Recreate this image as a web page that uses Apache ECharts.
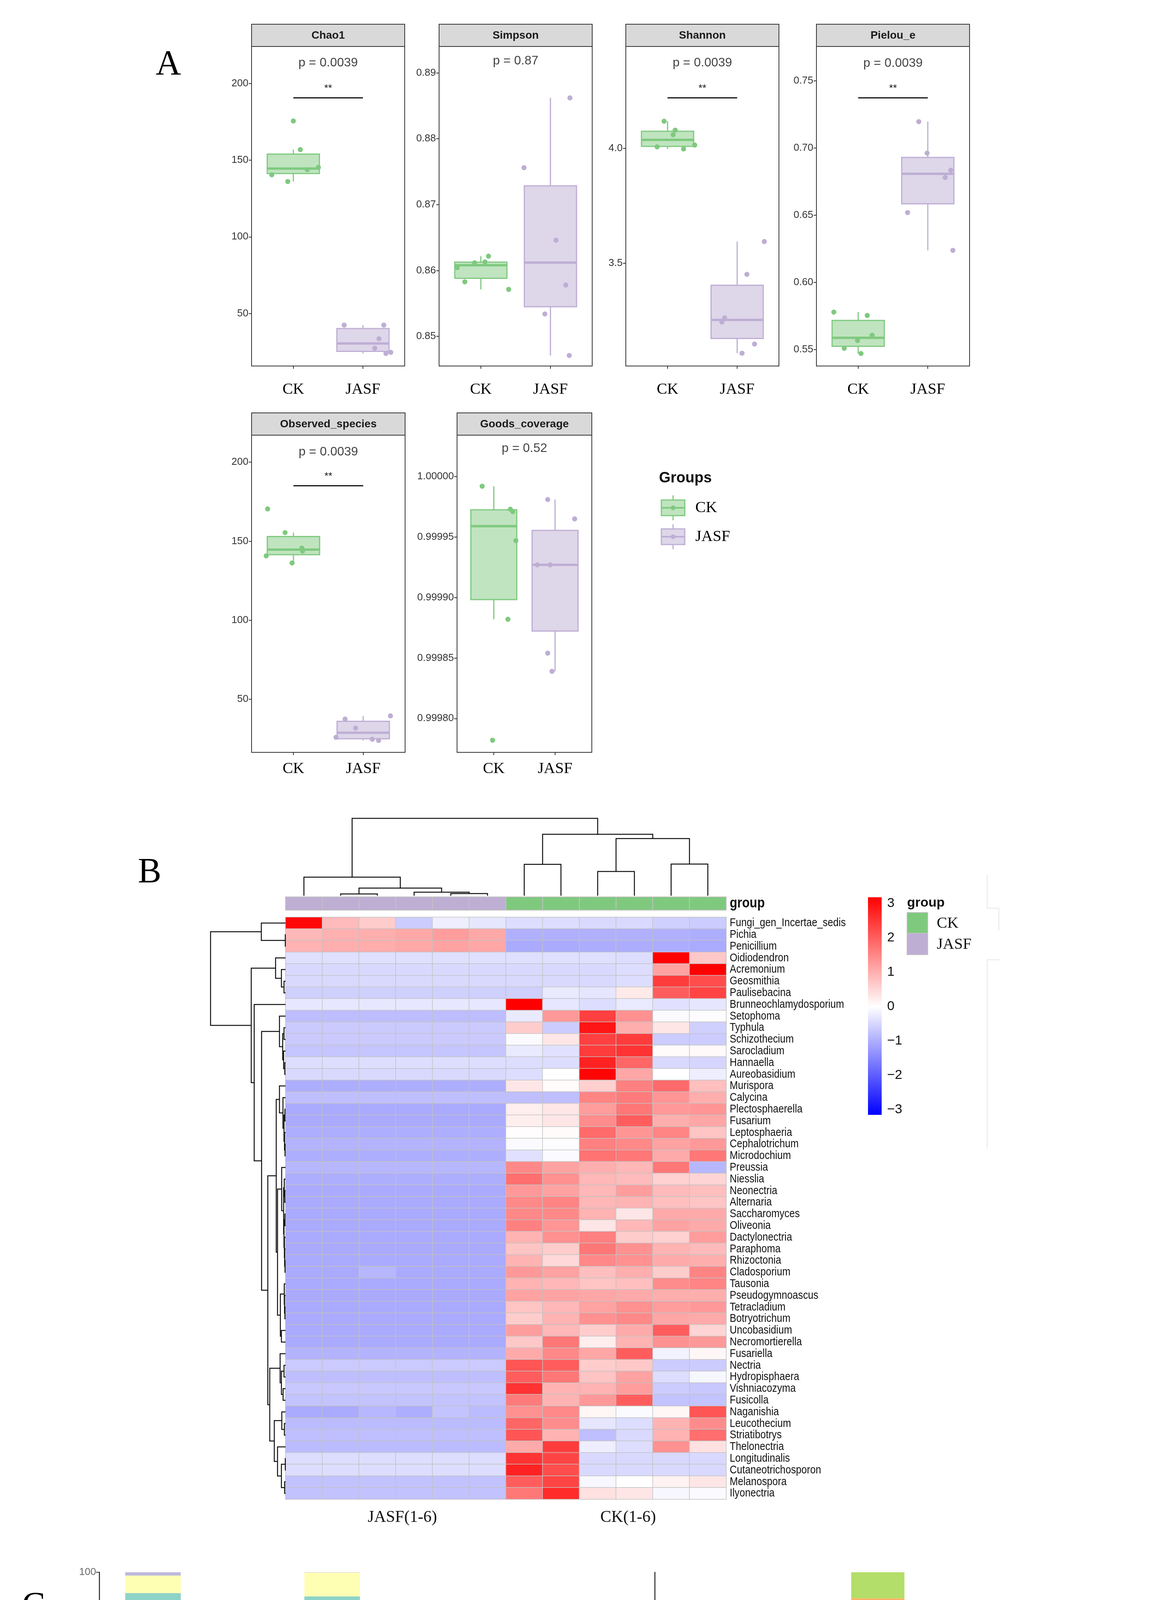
<!DOCTYPE html>
<html><head><meta charset="utf-8">
<script src="https://cdn.jsdelivr.net/npm/echarts@6/dist/echarts.min.js"></script>
<style>html,body{margin:0;padding:0;background:#fff;overflow:hidden}#c{width:2990px;height:5495px}</style>
</head><body><div id="c"></div><script>
// ---------------- DATA: panel A (alpha diversity) ----------------
const groups = ['CK', 'JASF'];
const metricNames = ['Chao1', 'Simpson', 'Shannon', 'Pielou_e', 'Observed_species', 'Goods_coverage'];
const pLabels = ['p = 0.0039', 'p = 0.87', 'p = 0.0039', 'p = 0.0039', 'p = 0.0039', 'p = 0.52'];
const sigMarks = ['**', '', '**', '**', '**', ''];
const chao1CK = [175.6, 156.9, 140.5, 136.1, 143.8, 145.3];
const chao1JASF = [42.4, 42.4, 33.5, 27.3, 23.9, 24.6];
const simpsonCK = [0.86043, 0.85828, 0.86117, 0.8613, 0.86217, 0.85713];
const simpsonJASF = [0.8756, 0.8862, 0.8646, 0.8578, 0.8534, 0.8471];
const shannonCK = [4.119, 4.080, 4.060, 4.007, 3.998, 4.015];
const shannonJASF = [3.594, 3.451, 3.261, 3.243, 3.147, 3.107];
const pielouCK = [0.5779, 0.5510, 0.5568, 0.5471, 0.5754, 0.5607];
const pielouJASF = [0.7195, 0.6961, 0.6834, 0.6780, 0.6519, 0.6238];
const observedCK = [170.4, 155.4, 145.6, 143.7, 140.7, 136.2];
const observedJASF = [37.4, 39.4, 31.7, 25.8, 24.6, 23.8];
const goodsCK = [0.999992, 0.999973, 0.999971, 0.999947, 0.999882, 0.999782];
const goodsJASF = [0.999981, 0.999965, 0.999927, 0.999927, 0.999854, 0.999839];
const chao1Jit = [[1.00, 1.10, 0.69, 0.92, 1.20, 1.36], [1.73, 2.30, 2.23, 2.17, 2.33, 2.40]];
const simpsonJit = [[0.66, 0.77, 0.91, 1.06, 1.11, 1.40], [1.62, 2.28, 2.08, 2.22, 1.92, 2.27]];
const shannonJit = [[0.95, 1.11, 1.08, 0.85, 1.23, 1.39], [2.39, 2.14, 1.82, 1.78, 2.25, 2.07]];
const pielouJit = [[0.65, 0.80, 0.99, 1.04, 1.13, 1.20], [1.87, 1.99, 2.33, 2.25, 1.71, 2.36]];
const observedJit = [[0.63, 0.88, 1.12, 1.13, 0.61, 0.98], [1.74, 2.39, 1.89, 1.61, 2.13, 2.22]];
const goodsJit = [[0.81, 1.27, 1.31, 1.36, 1.23, 0.98], [1.88, 2.32, 1.71, 1.92, 1.88, 1.95]];
const yRanges = [[15.7, 224.2], [0.8455, 0.8940], [3.051, 4.445], [0.5378, 0.7754], [16.3, 217.1], [0.999772, 1.0000342]];
const yTicks = [[50, 100, 150, 200], [0.85, 0.86, 0.87, 0.88, 0.89], [3.5, 4.0], [0.55, 0.60, 0.65, 0.70, 0.75], [50, 100, 150, 200], [0.99980, 0.99985, 0.99990, 0.99995, 1.0]];
const yDecimals = [0, 2, 1, 2, 0, 5];
const pLabelY = [213.4, 0.8918, 4.373, 0.763, 206.5, 1.0000233];
const sigLineY = [190.8, null, 4.222, 0.7373, 185.2, null];

// ---------------- DATA: panel B (heatmap) ----------------
const sampleCols = ['JASF1', 'JASF2', 'JASF3', 'JASF4', 'JASF5', 'JASF6', 'CK1', 'CK2', 'CK3', 'CK4', 'CK5', 'CK6'];
const sampleGroup = ['JASF', 'JASF', 'JASF', 'JASF', 'JASF', 'JASF', 'CK', 'CK', 'CK', 'CK', 'CK', 'CK'];
const genusRows = ['Fungi_gen_Incertae_sedis', 'Pichia', 'Penicillium', 'Oidiodendron', 'Acremonium', 'Geosmithia', 'Paulisebacina', 'Brunneochlamydosporium', 'Setophoma', 'Typhula', 'Schizothecium', 'Sarocladium', 'Hannaella', 'Aureobasidium', 'Murispora', 'Calycina', 'Plectosphaerella', 'Fusarium', 'Leptosphaeria', 'Cephalotrichum', 'Microdochium', 'Preussia', 'Niesslia', 'Neonectria', 'Alternaria', 'Saccharomyces', 'Oliveonia', 'Dactylonectria', 'Paraphoma', 'Rhizoctonia', 'Cladosporium', 'Tausonia', 'Pseudogymnoascus', 'Tetracladium', 'Botryotrichum', 'Uncobasidium', 'Necromortierella', 'Fusariella', 'Nectria', 'Hydropisphaera', 'Vishniacozyma', 'Fusicolla', 'Naganishia', 'Leucothecium', 'Striatibotrys', 'Thelonectria', 'Longitudinalis', 'Cutaneotrichosporon', 'Melanospora', 'Ilyonectria'];
const heatValues = [
  [2.9, 0.8, 0.6, -0.6, -0.2, -0.3, -0.4, -0.4, -0.45, -0.45, -0.55, -0.6],
  [0.83, 0.93, 0.95, 1.02, 1.16, 1.02, -0.93, -0.93, -0.93, -0.93, -0.93, -0.95],
  [0.9, 0.95, 0.97, 1.02, 1.1, 1.03, -1.0, -1.0, -0.97, -0.97, -0.97, -1.0],
  [-0.38, -0.38, -0.38, -0.38, -0.38, -0.38, -0.38, -0.38, -0.38, -0.4, 3.05, 0.65],
  [-0.45, -0.45, -0.45, -0.45, -0.45, -0.45, -0.45, -0.45, -0.45, -0.4, 1.1, 3.0],
  [-0.45, -0.45, -0.45, -0.45, -0.45, -0.45, -0.45, -0.45, -0.45, -0.4, 2.3, 2.1],
  [-0.55, -0.55, -0.55, -0.55, -0.55, -0.55, -0.55, -0.25, -0.3, 0.25, 1.9, 2.2],
  [-0.28, -0.28, -0.28, -0.28, -0.28, -0.28, 3.15, -0.28, -0.4, -0.25, -0.35, -0.3],
  [-0.78, -0.78, -0.78, -0.78, -0.78, -0.78, -0.25, 1.2, 2.25, 1.3, -0.05, -0.02],
  [-0.62, -0.62, -0.62, -0.62, -0.62, -0.62, 0.6, -0.6, 2.75, 0.95, 0.3, -0.55],
  [-0.62, -0.62, -0.62, -0.62, -0.62, -0.62, -0.05, 0.3, 2.25, 2.3, -0.6, -0.6],
  [-0.68, -0.68, -0.68, -0.68, -0.68, -0.68, -0.25, -0.35, 2.3, 2.4, 0.05, 0.07],
  [-0.4, -0.4, -0.4, -0.4, -0.4, -0.4, -0.4, -0.4, 2.6, 1.8, -0.45, -0.5],
  [-0.45, -0.45, -0.45, -0.45, -0.45, -0.45, -0.4, 0.0, 2.95, 1.05, 0.0, -0.2],
  [-0.95, -0.95, -0.95, -0.95, -0.95, -0.95, 0.3, 0.05, 0.55, 1.5, 1.75, 0.75],
  [-0.75, -0.75, -0.75, -0.75, -0.75, -0.75, -0.75, -0.75, 1.45, 1.55, 1.25, 0.95],
  [-1.0, -1.0, -1.0, -1.0, -1.0, -1.0, 0.2, 0.3, 1.15, 1.6, 1.2, 1.25],
  [-1.0, -1.0, -1.0, -1.0, -1.0, -1.0, 0.2, 0.3, 1.35, 1.9, 0.95, 1.05],
  [-0.95, -0.95, -0.95, -0.95, -0.95, -0.95, 0.02, 0.05, 1.75, 1.25, 1.45, 0.7],
  [-0.9, -0.9, -0.9, -0.9, -0.9, -0.9, -0.05, -0.02, 1.5, 1.4, 1.1, 1.2],
  [-0.95, -0.95, -0.95, -0.95, -0.95, -0.95, -0.35, -0.05, 1.65, 1.6, 1.0, 1.6],
  [-0.85, -0.85, -0.85, -0.85, -0.85, -0.85, 1.4, 1.1, 0.95, 0.85, 1.6, -0.85],
  [-0.95, -0.95, -0.95, -0.95, -0.95, -0.95, 1.7, 1.3, 0.85, 0.8, 0.55, 0.5],
  [-1.0, -1.0, -1.0, -1.0, -1.0, -1.0, 1.2, 1.1, 0.85, 1.15, 0.8, 0.75],
  [-1.0, -1.0, -1.0, -1.0, -1.0, -1.0, 1.4, 1.45, 0.85, 0.9, 0.75, 0.7],
  [-1.0, -1.0, -1.0, -1.0, -1.0, -1.0, 1.4, 1.4, 0.9, 0.3, 1.0, 1.0],
  [-1.0, -1.0, -1.0, -1.0, -1.0, -1.0, 1.5, 1.25, 0.3, 0.85, 1.1, 1.0],
  [-1.0, -1.0, -1.0, -1.0, -1.0, -1.0, 0.9, 1.3, 1.5, 0.6, 0.55, 1.15],
  [-1.0, -1.0, -1.0, -1.0, -1.0, -1.0, 0.7, 0.6, 1.6, 1.3, 0.9, 0.8],
  [-1.0, -1.0, -1.0, -1.0, -1.0, -1.0, 0.9, 0.45, 1.4, 1.3, 1.0, 0.95],
  [-1.0, -1.0, -0.85, -1.0, -1.0, -1.0, 1.2, 1.1, 0.75, 0.95, 0.6, 1.45],
  [-1.0, -1.0, -1.0, -1.0, -1.0, -1.0, 0.9, 0.85, 0.7, 0.75, 1.35, 1.45],
  [-1.0, -1.0, -1.0, -1.0, -1.0, -1.0, 1.1, 1.1, 1.05, 1.0, 0.95, 0.95],
  [-1.0, -1.0, -1.0, -1.0, -1.0, -1.0, 0.7, 0.85, 1.1, 1.3, 1.15, 1.2],
  [-1.0, -1.0, -1.0, -1.0, -1.0, -1.0, 0.6, 0.9, 1.3, 1.4, 1.05, 1.0],
  [-1.0, -1.0, -1.0, -1.0, -1.0, -1.0, 1.15, 0.85, 0.6, 1.0, 1.9, 0.5],
  [-1.0, -1.0, -1.0, -1.0, -1.0, -1.0, 0.65, 1.6, 0.2, 0.9, 1.3, 1.2],
  [-0.9, -0.9, -0.9, -0.9, -0.9, -0.9, 1.0, 1.4, 1.05, 1.9, -0.15, 0.1],
  [-0.62, -0.62, -0.62, -0.62, -0.62, -0.62, 2.0, 1.9, 0.6, 0.65, -0.6, -0.6],
  [-0.75, -0.75, -0.75, -0.75, -0.75, -0.75, 1.9, 1.6, 0.7, 1.1, -0.4, -0.1],
  [-0.65, -0.65, -0.65, -0.65, -0.65, -0.65, 2.4, 0.9, 0.9, 1.15, -0.6, -0.65],
  [-0.7, -0.7, -0.7, -0.7, -0.7, -0.7, 1.55, 0.9, 1.2, 1.9, -0.7, -0.7],
  [-1.0, -1.0, -0.85, -0.95, -0.7, -0.8, 1.3, 1.4, 0.1, -0.05, 0.1, 2.0],
  [-0.8, -0.8, -0.8, -0.8, -0.8, -0.8, 1.8, 1.35, -0.3, -0.4, 0.9, 1.35],
  [-0.75, -0.75, -0.75, -0.75, -0.75, -0.75, 2.0, 0.9, -0.75, -0.45, 0.9, 1.7],
  [-0.8, -0.8, -0.8, -0.8, -0.8, -0.8, 1.0, 2.3, -0.2, -0.4, 1.3, 0.35],
  [-0.4, -0.4, -0.4, -0.4, -0.4, -0.4, 2.4, 2.2, -0.45, -0.45, -0.45, -0.45],
  [-0.4, -0.4, -0.4, -0.4, -0.4, -0.4, 2.6, 2.1, -0.45, -0.45, -0.45, -0.45],
  [-0.72, -0.72, -0.72, -0.72, -0.72, -0.72, 1.9, 2.2, -0.1, 0.0, 0.15, 0.3],
  [-0.72, -0.72, -0.72, -0.72, -0.72, -0.72, 1.6, 2.5, 0.35, 0.3, -0.1, -0.05]
];
const colTree = [437, [105, 0, [43, [10, 1, 2], [20, 3, [12, 4, 5]]]], [347, [177, 6, 7], [323, [137, 8, 9], [179, 10, 11]]]];
const rowTreeP = [47, 14, [20, 15, [12, [5, 16, 17], [8, 18, [4, 19, 20]]]]];
const rowTreeQ = [62, [30, 21, [15, [10, 22, [6, 23, 24]], [12, [5, 25, 26], [9, 27, [7, 28, [4, 29, 30]]]]]], [40, [10, 31, [8, 32, [5, 33, 34]]], [32, 35, 36]]];
const rowTreeI = [42, 37, [32, [12, 38, 39], [19, 40, 41]]];
const rowTreeJ = [87, [29, 42, [9, 43, 44]], [62, 45, [32, [2, 46, 47], [7, 48, 49]]]];
const rowTreeE = [47, 8, [22, [12, 9, 10], [15, 11, [6, 12, 13]]]];
const rowTree = [579, [187, 0, [2, 1, 2]], [265, [77, 3, [32, 4, [12, 5, 6]]], [242, 7, [185, rowTreeE, [137, [72, rowTreeP, rowTreeQ], [122, rowTreeI, rowTreeJ]]]]]];
const colorBarTicks = [3, 2, 1, 0, -1, -2, -3];

// ---------------- DATA: panel C (stacked relative abundance) ----------------
const barCats = ['CK', 'JASF', 'CK-JASF'];
const phylumStack = ['Ascomycota', 'Basidiomycota', 'Mortierellomycota'];
const ascomycota = [95.95, 43.05, 95.3];
const basidiomycota = [3.4, 0.5, 4.65];
const mortierellomycota = [0.65, 0.0, 0.05];
const genusStack = ['Saccharomyces', 'Pseudogymnoascus', 'Pichia', 'Tetracladium', 'Penicillium', 'Tausonia', 'Alternaria', 'Neonectria', 'Plectosphaerella', 'Cephalotrichum'];
const saccharomyces = [0, 0, 89.0];
const pseudogymnoascus = [56.6, 0, 0];
const pichia = [0, 26.5, 0];
const tetracladium = [20.8, 0, 0];
const penicillium = [0, 16.7, 0];
const tausonia = [1.6, 0, 4.8];
const alternaria = [0, 0, 5.0];
const neonectria = [3.8, 0, 0];
const plectosphaerella = [3.9, 0.25, 0];
const cephalotrichum = [3.0, 0, 0];
const yTicksC = [0, 25, 50, 75, 100];

// ---------------- STYLE / LAYOUT ----------------
const SANS = "'Liberation Sans', Arial, sans-serif";
const SERIF = "'Liberation Serif', 'Times New Roman', serif";
const groupColors = ['#7FC97F', '#BEAED4'];
const groupFills = ['rgba(127,201,127,0.5)', 'rgba(190,174,212,0.5)'];
const set3 = {Ascomycota: '#8DD3C7', Basidiomycota: '#FFFFB3', Mortierellomycota: '#BEBADA',
  Saccharomyces: '#8DD3C7', Pseudogymnoascus: '#FFFFB3', Pichia: '#BEBADA', Tetracladium: '#FB8072', Penicillium: '#80B1D3',
  Tausonia: '#FDB462', Alternaria: '#B3DE69', Neonectria: '#FCCDE5', Plectosphaerella: '#BC80BD', Cephalotrichum: '#FFED6F'};
const panelBoxes = [
  {x: 644, y: 62, w: 392, h: 875, m: 40}, {x: 1124, y: 62, w: 392, h: 875, m: 40},
  {x: 1602, y: 62, w: 392, h: 875, m: 40}, {x: 2090, y: 62, w: 392, h: 875, m: 40},
  {x: 644, y: 1057, w: 393, h: 869, m: 22}, {x: 1170, y: 1057, w: 345, h: 869, m: 22}
];
const stripH = 57;

const grids = [], xAxes = [], yAxes = [], series = [], graphics = [];
function addGrid(g, xa, ya) {
  grids.push(g); const gi = grids.length - 1;
  xa.gridIndex = gi; ya.gridIndex = gi; xAxes.push(xa); yAxes.push(ya); return gi;
}
function txt(x, y, text, font, fill, align, valign) {
  return {type: 'text', x: x, y: y, silent: true, z: 50,
    style: {text: text, font: font, fill: fill || '#000', align: align || 'left', verticalAlign: valign || 'middle',
      textAlign: align || 'left', textVerticalAlign: valign || 'middle'}};
}
function quant(s, p) { const h = (s.length - 1) * p, lo = Math.floor(h), hi = Math.min(lo + 1, s.length - 1); return s[lo] + (h - lo) * (s[hi] - s[lo]); }
function boxStats(vals, pos) {
  const s = [...vals].sort((a, b) => a - b);
  const q1 = quant(s, 0.25), md = quant(s, 0.5), q3 = quant(s, 0.75), iqr = q3 - q1;
  const lo = Math.min(...s.filter(v => v >= q1 - 1.5 * iqr)), hi = Math.max(...s.filter(v => v <= q3 + 1.5 * iqr));
  return [pos, q1, md, q3, lo, hi];
}

// ---------------- PANEL A ----------------
const ckSets = [chao1CK, simpsonCK, shannonCK, pielouCK, observedCK, goodsCK];
const jasfSets = [chao1JASF, simpsonJASF, shannonJASF, pielouJASF, observedJASF, goodsJASF];
const jitSets = [chao1Jit, simpsonJit, shannonJit, pielouJit, observedJit, goodsJit];

metricNames.forEach((name, i) => {
  const b = panelBoxes[i];
  const gi = addGrid({left: b.x, top: b.y + stripH, width: b.w, height: b.h - stripH, show: true, borderColor: '#333', borderWidth: 2},
    {type: 'value', min: 0.4, max: 2.6, axisLine: {show: false}, splitLine: {show: false},
      axisTick: {show: true, customValues: [1, 2], length: 7, lineStyle: {color: '#333', width: 2}},
      axisLabel: {customValues: [1, 2], formatter: v => groups[Math.round(v) - 1], fontFamily: SERIF, fontSize: 40, color: '#000', margin: b.m}},
    {type: 'value', min: yRanges[i][0], max: yRanges[i][1], splitLine: {show: false}, axisLine: {show: false},
      axisTick: {show: true, customValues: yTicks[i], length: 7, lineStyle: {color: '#333', width: 2}},
      axisLabel: {customValues: yTicks[i], formatter: v => v.toFixed(yDecimals[i]), fontFamily: SANS, fontSize: 26, color: '#333', margin: 8}});
  graphics.push({type: 'rect', shape: {x: b.x, y: b.y, width: b.w, height: stripH}, style: {fill: '#d9d9d9', stroke: '#333', lineWidth: 2}, silent: true, z: 40});
  graphics.push(txt(b.x + b.w / 2, b.y + stripH / 2 + 1, name, 'bold 28px ' + SANS, '#1a1a1a', 'center', 'middle'));
  series.push({type: 'custom', xAxisIndex: gi, yAxisIndex: gi, silent: true, z: 2,
    data: [boxStats(ckSets[i], 1), boxStats(jasfSets[i], 2)],
    renderItem: (params, api) => {
      const g = params.dataIndex, col = groupColors[g], fill = groupFills[g];
      const x = api.value(0), q1 = api.value(1), md = api.value(2), q3 = api.value(3), lo = api.value(4), hi = api.value(5);
      const a = api.coord([x - 0.375, q3]), c = api.coord([x + 0.375, q1]);
      const m1 = api.coord([x - 0.375, md]), m2 = api.coord([x + 0.375, md]);
      const wh = api.coord([x, hi]), wq3 = api.coord([x, q3]), wq1 = api.coord([x, q1]), wl = api.coord([x, lo]);
      return {type: 'group', children: [
        {type: 'line', shape: {x1: wh[0], y1: wh[1], x2: wq3[0], y2: wq3[1]}, style: {stroke: col, lineWidth: 3}},
        {type: 'line', shape: {x1: wq1[0], y1: wq1[1], x2: wl[0], y2: wl[1]}, style: {stroke: col, lineWidth: 3}},
        {type: 'rect', shape: {x: a[0], y: a[1], width: c[0] - a[0], height: c[1] - a[1]}, style: {fill: fill, stroke: col, lineWidth: 3}},
        {type: 'line', shape: {x1: m1[0], y1: m1[1], x2: m2[0], y2: m2[1]}, style: {stroke: col, lineWidth: 6}}
      ]};
    }});
  series.push({type: 'scatter', xAxisIndex: gi, yAxisIndex: gi, symbolSize: 13, z: 3, silent: true,
    itemStyle: {color: groupColors[0], opacity: 1}, data: ckSets[i].map((v, k) => [jitSets[i][0][k], v])});
  series.push({type: 'scatter', xAxisIndex: gi, yAxisIndex: gi, symbolSize: 13, z: 3, silent: true,
    itemStyle: {color: groupColors[1], opacity: 1}, data: jasfSets[i].map((v, k) => [jitSets[i][1][k], v])});
  const ann = {type: 'scatter', xAxisIndex: gi, yAxisIndex: gi, symbolSize: 1, z: 4, silent: true,
    itemStyle: {color: 'rgba(0,0,0,0)'}, data: [[1.5, pLabelY[i]]],
    label: {show: true, position: 'inside', formatter: pLabels[i], fontSize: 32, fontFamily: SANS, color: '#111'}};
  if (sigLineY[i] !== null) {
    ann.markLine = {silent: true, symbol: ['none', 'none'], animation: false,
      lineStyle: {color: '#111', width: 3, type: 'solid'},
      label: {show: true, position: 'middle', formatter: sigMarks[i], fontSize: 26, fontFamily: SANS, color: '#111', distance: 10},
      data: [[{coord: [1, sigLineY[i]]}, {coord: [2, sigLineY[i]]}]]};
  }
  series.push(ann);
});

graphics.push(txt(1687, 1225, 'Groups', 'bold 38px ' + SANS, '#111', 'left', 'middle'));
[[1300, 0], [1374, 1]].forEach(([cy, g]) => {
  const cx = 1723;
  graphics.push({type: 'line', shape: {x1: cx, y1: cy - 32, x2: cx, y2: cy + 32}, style: {stroke: groupColors[g], lineWidth: 3}, silent: true, z: 40});
  graphics.push({type: 'rect', shape: {x: cx - 30, y: cy - 20, width: 60, height: 40}, style: {fill: '#fff', stroke: groupColors[g], lineWidth: 3}, silent: true, z: 41});
  graphics.push({type: 'rect', shape: {x: cx - 30, y: cy - 20, width: 60, height: 40}, style: {fill: groupFills[g]}, silent: true, z: 42});
  graphics.push({type: 'line', shape: {x1: cx - 30, y1: cy, x2: cx + 30, y2: cy}, style: {stroke: groupColors[g], lineWidth: 4}, silent: true, z: 43});
  graphics.push({type: 'circle', shape: {cx: cx, cy: cy, r: 6}, style: {fill: groupColors[g]}, silent: true, z: 44});
  graphics.push(txt(1780, cy, groups[g], '40px ' + SERIF, '#000', 'left', 'middle'));
});

// ---------------- PANEL B ----------------
const HM = {left: 731, top: 2348, width: 1128, height: 1490};
const hmData = [];
heatValues.forEach((row, r) => row.forEach((v, c) => hmData.push([c, r, v])));
const hmGi = addGrid({left: HM.left, top: HM.top, width: HM.width, height: HM.height},
  {type: 'category', data: sampleCols, show: false},
  {type: 'category', data: genusRows, inverse: true, show: false});
series.push({type: 'heatmap', xAxisIndex: hmGi, yAxisIndex: hmGi, data: hmData, silent: true,
  itemStyle: {borderColor: '#c2c2c2', borderWidth: 1.5}});
const heatSeriesIndex = series.length - 1;
series.push({type: 'custom', xAxisIndex: hmGi, yAxisIndex: hmGi, silent: true, z: 5,
  data: genusRows.map((n, r) => [sampleCols.length - 1, r]),
  renderItem: (params, api) => {
    const c = api.coord([api.value(0), api.value(1)]); const s = api.size([1, 1]);
    return {type: 'text', x: c[0] + s[0] / 2 + 9, y: c[1], scaleX: 0.84,
      style: {text: genusRows[params.dataIndex], font: '30px ' + SANS, fill: '#111', align: 'left', verticalAlign: 'middle'}};
  }});

const annGi = addGrid({left: HM.left, top: 2296, width: HM.width, height: 34},
  {type: 'value', min: -0.5, max: 11.5, show: false},
  {type: 'category', data: ['group'], show: false});
series.push({type: 'custom', xAxisIndex: annGi, yAxisIndex: annGi, silent: true,
  data: sampleGroup.map((g, i) => [i, 0, groups.indexOf(g)]),
  renderItem: (params, api) => {
    const c = api.coord([api.value(0), 0]); const s = api.size([1, 1]);
    const children = [{type: 'rect', shape: {x: c[0] - s[0] / 2, y: c[1] - s[1] / 2, width: s[0], height: s[1]},
      style: {fill: groupColors[api.value(2)], stroke: '#c2c2c2', lineWidth: 2}}];
    if (params.dataIndex === sampleGroup.length - 1) {
      children.push({type: 'text', x: c[0] + s[0] / 2 + 9, y: c[1], scaleX: 0.88,
        style: {text: 'group', font: 'bold 36px ' + SANS, fill: '#111', align: 'left', verticalAlign: 'middle'}});
    }
    return {type: 'group', children: children};
  }});

function treeSegs(node, out) {
  if (typeof node === 'number') return {pos: node, h: 0};
  const a = treeSegs(node[1], out), b = treeSegs(node[2], out);
  out.push([a.pos, a.h, b.pos, b.h, node[0]]);
  return {pos: (a.pos + b.pos) / 2, h: node[0]};
}
const colSegs = []; treeSegs(colTree, colSegs);
const rowSegs = []; treeSegs(rowTree, rowSegs);

const cdGi = addGrid({left: HM.left, top: 2095, width: HM.width, height: 198},
  {type: 'value', min: -0.5, max: 11.5, show: false},
  {type: 'value', min: 0, max: colTree[0], show: false});
series.push({type: 'custom', xAxisIndex: cdGi, yAxisIndex: cdGi, silent: true, data: colSegs,
  renderItem: (params, api) => {
    const p1 = api.value(0), h1 = api.value(1), p2 = api.value(2), h2 = api.value(3), h = api.value(4);
    return {type: 'polyline', shape: {points: [api.coord([p1, h1]), api.coord([p1, h]), api.coord([p2, h]), api.coord([p2, h2])]},
      style: {stroke: '#111', lineWidth: 2.5, fill: null}};
  }});
const rdGi = addGrid({left: 539, top: HM.top, width: HM.left - 539, height: HM.height},
  {type: 'value', min: 0, max: rowTree[0], inverse: true, show: false},
  {type: 'value', min: -0.5, max: genusRows.length - 0.5, inverse: true, show: false});
series.push({type: 'custom', xAxisIndex: rdGi, yAxisIndex: rdGi, silent: true, data: rowSegs,
  renderItem: (params, api) => {
    const p1 = api.value(0), h1 = api.value(1), p2 = api.value(2), h2 = api.value(3), h = api.value(4);
    return {type: 'polyline', shape: {points: [api.coord([h1, p1]), api.coord([h, p1]), api.coord([h, p2]), api.coord([h2, p2])]},
      style: {stroke: '#111', lineWidth: 2.5, fill: null}};
  }});

const CB = {x: 2222, top: 2297, bottom: 2854, zeroY: 2577, unit: 88};
graphics.push({type: 'rect', shape: {x: CB.x, y: CB.top, width: 35, height: CB.bottom - CB.top}, silent: true, z: 40,
  style: {fill: {type: 'linear', x: 0, y: 0, x2: 0, y2: 1, colorStops: [
    {offset: 0, color: '#ff0000'}, {offset: (CB.zeroY - CB.top) / (CB.bottom - CB.top), color: '#ffffff'}, {offset: 1, color: '#0000ff'}]}}});
colorBarTicks.forEach(v => graphics.push(txt(2271, CB.zeroY - v * CB.unit, v < 0 ? '\u2212' + Math.abs(v) : String(v), '34px ' + SANS, '#111', 'left', 'middle')));
graphics.push(txt(2322, 2312, 'group', 'bold 34px ' + SANS, '#111', 'left', 'middle'));
graphics.push({type: 'rect', shape: {x: 2322, y: 2336, width: 53, height: 53}, style: {fill: groupColors[0], stroke: '#c2c2c2', lineWidth: 2}, silent: true, z: 40});
graphics.push({type: 'rect', shape: {x: 2322, y: 2389, width: 53, height: 55}, style: {fill: groupColors[1], stroke: '#c2c2c2', lineWidth: 2}, silent: true, z: 40});
graphics.push(txt(2398, 2364, 'CK', '40px ' + SERIF, '#111', 'left', 'middle'));
graphics.push(txt(2398, 2418, 'JASF', '40px ' + SERIF, '#111', 'left', 'middle'));
[[2527, 2240, 2527, 2325], [2527, 2325, 2557, 2325], [2557, 2325, 2557, 2381], [2527, 2457, 2560, 2457], [2527, 2457, 2527, 2940]].forEach(s =>
  graphics.push({type: 'line', shape: {x1: s[0], y1: s[1], x2: s[2], y2: s[3]}, style: {stroke: '#e6e6e6', lineWidth: 2}, silent: true, z: 1}));
graphics.push(txt(1030, 3885, 'JASF(1-6)', '42px ' + SERIF, '#111', 'center', 'middle'));
graphics.push(txt(1608, 3885, 'CK(1-6)', '42px ' + SERIF, '#111', 'center', 'middle'));

// ---------------- PANEL C ----------------
function stackSeries(names, arrays, gi) {
  const base = [0, 0, 0];
  names.forEach((nm, k) => {
    const vals = arrays[k];
    const data = vals.map((v, i) => { const d = [i + 1, base[i], base[i] + v]; base[i] += v; return d; });
    series.push({type: 'custom', name: nm, xAxisIndex: gi, yAxisIndex: gi, silent: true, itemStyle: {color: set3[nm]}, data: data,
      renderItem: (params, api) => {
        const x = api.value(0), y0 = api.value(1), y1 = api.value(2);
        if (y1 - y0 <= 0) return null;
        const a = api.coord([x - 0.31, y1]), b = api.coord([x + 0.31, y0]);
        return {type: 'rect', shape: {x: a[0], y: a[1], width: b[0] - a[0], height: b[1] - a[1]}, style: {fill: api.visual('color')}};
      }});
  });
}
function cAxes(maxY, ticks, gap) {
  return [
    {type: 'value', min: 0.4, max: 3.6, splitLine: {show: false},
      axisLine: {show: true, onZero: false, lineStyle: {color: '#222', width: 2.5}},
      axisTick: {show: true, customValues: [1, 2, 3], length: 8, lineStyle: {color: '#333', width: 2}},
      axisLabel: {customValues: [1, 2, 3], formatter: v => barCats[Math.round(v) - 1], fontFamily: SERIF, fontSize: 34, color: '#222', margin: 32}},
    {type: 'value', min: 0, max: maxY, splitLine: {show: false},
      axisLine: {show: true, onZero: false, lineStyle: {color: '#222', width: 2.5}},
      axisTick: {show: true, customValues: ticks, length: 8, lineStyle: {color: '#333', width: 2}},
      axisLabel: {customValues: ticks, fontFamily: SANS, fontSize: 26, color: '#6b6b6b', margin: 8},
      name: 'Relative abundance (%)', nameLocation: 'middle', nameRotate: 90, nameGap: gap,
      nameTextStyle: {fontFamily: SANS, fontSize: 46, color: '#111'}}
  ];
}
const phyAx = cAxes(100, yTicksC, 80);
const c1Gi = addGrid({left: 254, top: 4025, width: 734, height: 1312}, phyAx[0], phyAx[1]);
stackSeries(phylumStack, [ascomycota, basidiomycota, mortierellomycota], c1Gi);

const genusArrays = [saccharomyces, pseudogymnoascus, pichia, tetracladium, penicillium, tausonia, alternaria, neonectria, plectosphaerella, cephalotrichum];
const genusMax = Math.max(...[0, 1, 2].map(i => genusArrays.reduce((s, a) => s + a[i], 0)));
const genAx = cAxes(genusMax, yTicksC.filter(t => t <= genusMax), 70);
const c2Gi = addGrid({left: 1676, top: 4025, width: 703, height: 1312}, genAx[0], genAx[1]);
stackSeries(genusStack, genusArrays, c2Gi);

graphics.push(txt(1052, 4577, 'Phylum', 'bold 44px ' + SANS, '#111', 'left', 'middle'));
graphics.push(txt(2441, 4362, 'Genus', 'bold 44px ' + SANS, '#111', 'left', 'middle'));

graphics.push(txt(431, 167, 'A', '90px ' + SERIF, '#000', 'center', 'middle'));
graphics.push(txt(383, 2235, 'B', '90px ' + SERIF, '#000', 'center', 'middle'));
graphics.push(txt(86, 4114, 'C', '90px ' + SERIF, '#000', 'center', 'middle'));

const legendText = {fontStyle: 'italic', fontFamily: SANS, color: '#222'};
const option = {
  animation: false,
  backgroundColor: '#ffffff',
  grid: grids, xAxis: xAxes, yAxis: yAxes, series: series,
  visualMap: [{type: 'continuous', show: false, seriesIndex: heatSeriesIndex, min: -3, max: 3, dimension: 2,
    inRange: {color: ['#0000ff', '#ffffff', '#ff0000']}}],
  legend: [
    {data: ['Mortierellomycota', 'Basidiomycota', 'Ascomycota'], orient: 'vertical', left: 1050, top: 4629,
      itemWidth: 58, itemHeight: 60, itemGap: 1, icon: 'rect', selectedMode: false,
      textStyle: Object.assign({fontSize: 40, padding: [0, 0, 0, 27]}, legendText)},
    {data: ['Cephalotrichum', 'Plectosphaerella', 'Neonectria', 'Alternaria', 'Tausonia', 'Penicillium', 'Tetracladium', 'Pichia', 'Pseudogymnoascus', 'Saccharomyces'],
      orient: 'vertical', left: 2441, top: 4413, itemWidth: 60, itemHeight: 60, itemGap: 1, icon: 'rect', selectedMode: false,
      textStyle: Object.assign({fontSize: 43, padding: [0, 0, 0, 24]}, legendText)}
  ],
  graphic: {elements: graphics}
};
const chart = echarts.init(document.getElementById('c'), null, {renderer: 'canvas', width: 2990, height: 5495});
chart.setOption(option);
</script></body></html>
